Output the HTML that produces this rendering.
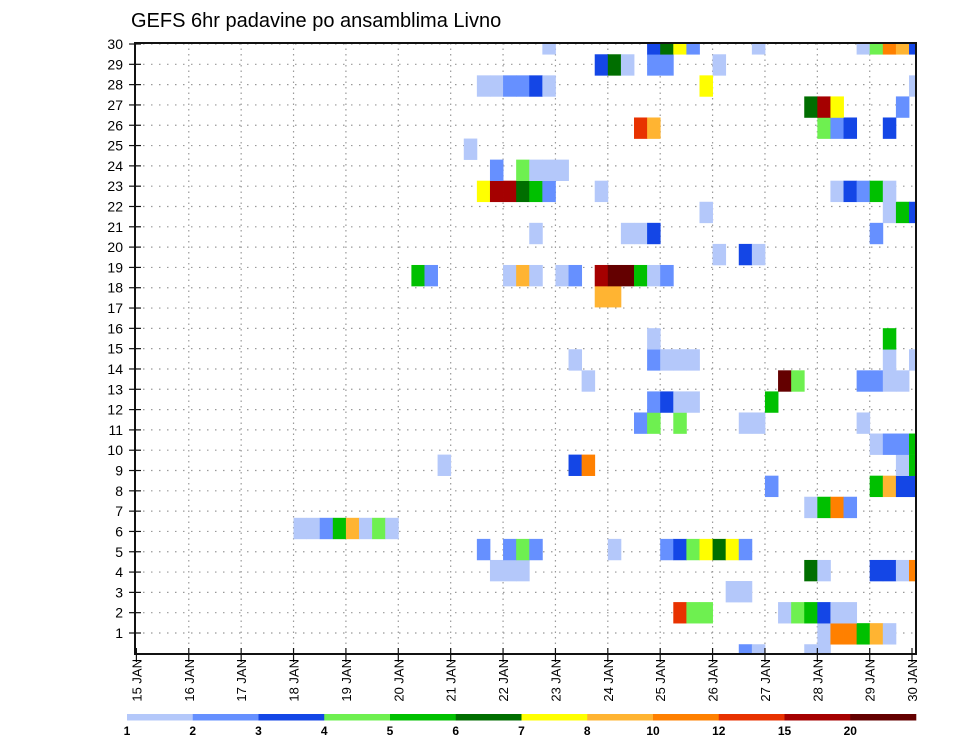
<!DOCTYPE html>
<html><head><meta charset="utf-8">
<style>
html,body{margin:0;padding:0;background:#fff;}
svg{display:block;font-family:"Liberation Sans","DejaVu Sans",sans-serif;}
</style></head>
<body>
<svg id="chart" width="960" height="742" viewBox="0 0 960 742" xmlns="http://www.w3.org/2000/svg">
<text x="131" y="27" font-size="20" fill="#000">GEFS 6hr padavine po ansamblima Livno</text>
<g id="grid"></g>
<g id="cells"></g>
<g id="axes"></g>
<g id="cbar"></g>
</svg>
<script>
// ---- data ----
const dayLabels = ["15 JAN","16 JAN","17 JAN","18 JAN","19 JAN","20 JAN","21 JAN","22 JAN","23 JAN","24 JAN","25 JAN","26 JAN","27 JAN","28 JAN","29 JAN","30 JAN"];
const rowLabels = [1,2,3,4,5,6,7,8,9,10,11,12,13,14,15,16,17,18,19,20,21,22,23,24,25,26,27,28,29,30];
const levelLabels = ["1","2","3","4","5","6","7","8","10","12","15","20"];
const levelColors = ["#b4c8fa","#6690ff","#1446e6","#6ef050","#00c000","#006e00","#ffff00","#ffb432","#ff8000","#e83200","#a50000","#640000"];
// member index (from -1) -> "step:level" pairs, step = 6h index from 15 JAN 00Z
const memberIds = [-1,0,1,2,3,4,5,6,7,8,9,10,11,12,13,14,15,16,17,18,19,20,21,22,23,24,25,26,27,28];
const memberCells = [
"46:2 47:1 51:1 52:1",
"52:1 53:9 54:9 55:5 56:8 57:1",
"41:10 42:4 43:4 49:1 50:4 51:5 52:3 53:1 54:1",
"45:1 46:1",
"27:1 28:1 29:1 51:6 52:1 56:3 57:3 58:1 59:9",
"26:2 28:2 29:4 30:2 36:1 40:2 41:3 42:4 43:7 44:6 45:7 46:2",
"12:1 13:1 14:2 15:5 16:8 17:1 18:4 19:1",
"51:1 52:5 53:9 54:2",
"48:2 56:5 57:8 58:3 59:3",
"23:1 33:3 34:9 58:1 59:5",
"56:1 57:2 58:2 59:5",
"38:2 39:4 41:4 46:1 47:1 55:1",
"39:2 40:3 41:1 42:1 48:5",
"34:1 49:12 50:4 55:2 56:2 57:1 58:1",
"33:1 39:2 40:1 41:1 42:1 57:1 59:1",
"39:1 57:5",
"",
"35:8 36:8",
"21:5 22:2 28:1 29:8 30:1 32:1 33:2 35:11 36:12 37:12 38:5 39:1 40:2",
"44:1 46:3 47:1",
"30:1 37:1 38:1 39:3 56:2",
"43:1 57:1 58:5 59:3",
"26:7 27:11 28:11 29:6 30:5 31:2 35:1 53:1 54:3 55:2 56:5 57:1",
"27:2 29:4 30:1 31:1 32:1",
"25:1",
"38:10 39:8 52:4 53:2 54:3 57:3",
"51:6 52:11 53:7 58:2",
"26:1 27:1 28:2 29:2 30:3 31:1 43:7 59:1",
"35:3 36:6 37:1 39:2 40:2 44:1",
"31:1 39:3 40:6 41:7 42:2 47:1 55:1 56:4 57:9 58:8 59:3"
];

// ---- layout ----
const NS="http://www.w3.org/2000/svg";
const L=135,R=916,T=43,B=654;
const X0=136.4, DAY=52.38, STEP=DAY/4;
function xStep(i){return X0+i*STEP;}
function xDay(d){return X0+d*DAY;}
const CELLH=21.07, Y1=633.7;
function yMember(j){return Y1-j*CELLH;}
function yRow(k){return 633-(k-1)*20.31;}
function mk(tag,attrs,parent){const e=document.createElementNS(NS,tag);for(const k in attrs)e.setAttribute(k,attrs[k]);parent.appendChild(e);return e;}

const svg=document.getElementById('chart');
const defs=mk('defs',{},svg);
const cp=mk('clipPath',{id:'plotclip'},defs);
mk('rect',{x:L,y:T,width:R-L,height:B-T},cp);

// grid
const grid=document.getElementById('grid');
rowLabels.forEach(k=>{
  const y=yRow(k);
  const ln=mk('line',{x1:L,x2:R,y1:y,y2:y,stroke:'#999','stroke-width':1.2,'stroke-dasharray':'1.5 6.5'},grid);
  
  
});
dayLabels.forEach((lab,d)=>{
  const x=xDay(d);
  if(x<=L+2||x>=R-2)return;
  const ln=mk('line',{x1:x,x2:x,y1:T,y2:B,stroke:'#999','stroke-width':1.2,'stroke-dasharray':'1.5 4'},grid);
  
  
});

// cells
const cells=document.getElementById('cells');
cells.setAttribute('clip-path','url(#plotclip)');
memberIds.forEach((j,idx)=>{
  const s=memberCells[idx].trim();
  if(!s)return;
  s.split(/\s+/).forEach(p=>{
    const [st,lv]=p.split(':').map(Number);
    const r=mk('rect',{x:xStep(st),y:yMember(j)-CELLH/2,width:STEP+0.4,height:CELLH+0.3,fill:levelColors[lv-1]},cells);
    
    
  });
});

// axes
const axes=document.getElementById('axes');
const frame=mk('rect',{x:L,y:T,width:R-L,height:B-T,fill:'none',stroke:'#111','stroke-width':2},axes);


rowLabels.forEach(k=>{
  const y=yRow(k);
  const t=mk('line',{x1:L-6,x2:L+6,y1:y,y2:y,stroke:'#111','stroke-width':1.2},axes);
  
  
  const tx=mk('text',{x:L-12,y:y+5,'font-size':14,'text-anchor':'end',fill:'#000'},axes);
  tx.textContent=String(k);
  
  
});
dayLabels.forEach((lab,d)=>{
  let x=xDay(d);
  if(x>R)x=R-4;
  const t=mk('line',{x1:x,x2:x,y1:B-6,y2:B+8,stroke:'#111','stroke-width':1.2},axes);
  
  
  const tx=mk('text',{x:0,y:0,'font-size':13,'text-anchor':'end',fill:'#000',transform:'translate('+(x+5)+',659) rotate(-90)'},axes);
  tx.textContent=lab;
  
  
});

// colorbar
const cbar=document.getElementById('cbar');
const CB0=127,CBW=(R-CB0)/levelColors.length;
levelColors.forEach((c,i)=>{
  const r=mk('rect',{x:CB0+i*CBW,y:714,width:CBW+0.3,height:6.5,fill:c},cbar);
  
  
});
levelLabels.forEach((lab,i)=>{
  const t=mk('text',{x:CB0+i*CBW,y:735,'font-size':12,'font-weight':'bold','text-anchor':'middle',fill:'#000'},cbar);
  t.textContent=lab;
  
  
});
</script>
</body></html>
